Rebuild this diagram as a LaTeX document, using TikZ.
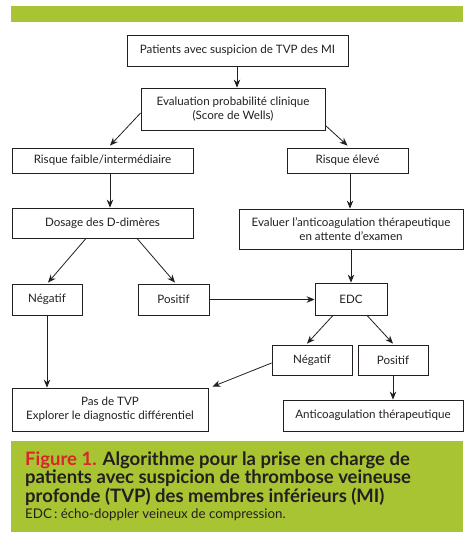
\documentclass[tikz,border=0pt]{standalone}
\usepackage{fontspec}
\setmainfont{Lato}
\usetikzlibrary{arrows.meta,calc}
\definecolor{figgreen}{HTML}{A9C432}
\definecolor{figred}{HTML}{D8262A}
\definecolor{ink}{HTML}{231F20}
\begin{document}
\begin{tikzpicture}[x=1pt,y=-1pt,
  box/.style={draw=ink,line width=0.8pt,rectangle,inner sep=0pt,align=center,
    font=\fontsize{11.6}{14}\selectfont,text=ink,anchor=center},
  arr/.style={draw=ink,line width=0.8pt,-{Stealth[length=8pt,width=6.5pt]}},
  captext/.style={anchor=base west,inner sep=0pt,text=ink}]
\useasboundingbox (0,0) rectangle (474,546);
\fill[figgreen] (11,6) rectangle (463,22);
\fill[figgreen] (11,441) rectangle (463,532);

\node[box,minimum width=221pt,minimum height=31pt] (b1) at (237.5,50.5) {Patients avec suspicion de TVP des MI};
\node[box,minimum width=184pt,minimum height=42pt] (b2) at (233,109) {Evaluation probabilité clinique\\(Score de Wells)};
\node[box,minimum width=181pt,minimum height=25pt] (rf) at (102.5,160.5) {Risque faible/intermédiaire};
\node[box,minimum width=121pt,minimum height=25pt] (re) at (347.5,160.5) {Risque élevé};
\node[box,minimum width=181pt,minimum height=30pt] (dd) at (102.5,223) {Dosage des D-dimères};
\node[box,minimum width=224pt,minimum height=40pt] (ev) at (351,229) {Evaluer l’anticoagulation thérapeutique\\en attente d’examen};
\node[box,minimum width=70pt,minimum height=31pt] (n1) at (47,299.5) {Négatif};
\node[box,minimum width=71pt,minimum height=31pt] (p1) at (173.5,299.5) {Positif};
\node[box,minimum width=72pt,minimum height=32pt] (edc) at (351,299) {EDC};
\node[box,minimum width=80pt,minimum height=30pt] (n2) at (312,360) {Négatif};
\node[box,minimum width=70pt,minimum height=30pt] (p2) at (393,360) {Positif};
\node[box,minimum width=196pt,minimum height=43pt] (pas) at (110,409.5) {Pas de TVP\\Explorer le diagnostic différentiel};
\node[box,minimum width=180pt,minimum height=31pt] (ac) at (373,415.5) {Anticoagulation thérapeutique};

\draw[arr] ([xshift=-0.5pt]b1.south) -- ([xshift=-0.5pt]b1.south |- b2.north);
\draw[arr] ([yshift=-4pt]b2.west) -- ([xshift=7.5pt,yshift=2pt]rf.north);
\draw[arr] ([yshift=5pt]b2.south east) -- ([yshift=2pt]re.north);
\draw[arr] ([xshift=7.5pt]rf.south) -- ([xshift=7.5pt]dd.north);
\draw[arr] ([xshift=2.5pt]re.south) -- ([xshift=2.5pt]re.south |- ev.north);
\draw[arr] ([xshift=-16.5pt]dd.south) -- ([xshift=1pt,yshift=1pt]n1.north);
\draw[arr] ([xshift=34.5pt]dd.south) -- ([xshift=1.5pt,yshift=1pt]p1.north);
\draw[arr] (p1.east) -- (p1.east -| edc.west);
\draw[arr] (ev.south) -- (edc.north);
\draw[arr] ([xshift=-18pt]edc.south) -- ([xshift=-5pt,yshift=1pt]n2.north);
\draw[arr] ([xshift=16pt]edc.south) -- ([yshift=1pt]p2.north);
\draw[arr] ([yshift=-3pt]n2.west) -- ([xshift=4pt,yshift=1pt]pas.north east);
\draw[arr] (n1.south) -- (n1.south |- pas.north);
\draw[arr] (p2.south) -- (p2.south |- ac.north);

\node[captext,font=\fontsize{18.5}{22}\selectfont\bfseries] (c1) at (25,465) {\textcolor{figred}{Figure 1.} Algorithme pour la prise en charge de};
\node[captext,font=\fontsize{18.5}{22}\selectfont\bfseries] (c2) at (25,483.5) {patients avec suspicion de thrombose veineuse};
\node[captext,font=\fontsize{18.5}{22}\selectfont\bfseries] (c3) at (25,502.5) {profonde (TVP) des membres inférieurs (MI)};
\node[captext,font=\fontsize{13.3}{16}\selectfont] (c4) at (25,518.5) {EDC\,: écho-doppler veineux de compression.};
\end{tikzpicture}
\end{document}
